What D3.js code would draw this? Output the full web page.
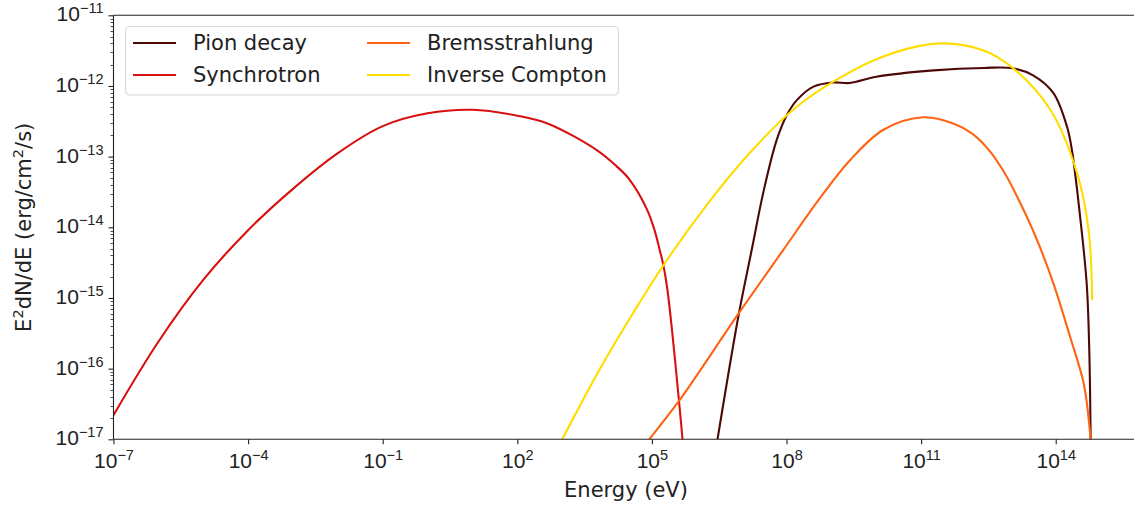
<!DOCTYPE html>
<html>
<head>
<meta charset="utf-8">
<script src="https://cdn.jsdelivr.net/npm/d3@7"></script>
<style>
  html, body { margin: 0; padding: 0; background: #fff; }
  svg { display: block; font-family: "DejaVu Sans", sans-serif; }
</style>
</head>
<body>
<svg id="chart" width="1134" height="507"></svg>
<script>
// Spectral energy distribution components (energy in eV, E^2 dN/dE in erg/cm^2/s)
const pionE = [2.9e6, 8.5e6, 1.7e7, 3.1e7, 6.0e7, 1.0e8, 1.7e8, 4.0e8, 1.1e9, 2.6e9, 1.0e10, 1.9e11, 2.5e12, 1.1e13, 3.2e13, 8.9e13, 1.8e14, 2.3e14, 3.5e14, 4.9e14, 5.6e14, 6.0e14, 6.15e14];
const pionF = [1e-17, 5.6e-16, 5.0e-15, 3.3e-14, 1.7e-13, 3.8e-13, 6.3e-13, 9.8e-13, 1.12e-12, 1.1e-12, 1.35e-12, 1.66e-12, 1.8e-12, 1.78e-12, 1.4e-12, 7.9e-13, 2.6e-13, 1.23e-13, 1.4e-14, 1.6e-15, 1.8e-16, 1.07e-17, 2e-18];

const synchE = [1e-7, 1e-6, 1e-5, 1e-4, 1e-3, 1e-2, 1e-1, 1, 10, 100, 470, 6.0e3, 1.6e4, 3.2e4, 7.8e4, 1.17e5, 1.5e5, 1.8e5, 2.2e5, 2.77e5, 3.9e5, 4.8e5, 5.5e5];
const synchF = [2.2e-17, 2.4e-16, 1.8e-15, 9.1e-15, 3.5e-14, 1.12e-13, 2.7e-13, 4.1e-13, 4.6e-13, 3.8e-13, 2.95e-13, 1.23e-13, 7.4e-14, 4.7e-14, 1.78e-14, 8.7e-15, 4.7e-15, 2.9e-15, 1.35e-15, 3.8e-16, 4.2e-17, 1e-17, 2.5e-18];

const bremE = [8.7e4, 3.9e5, 8.5e6, 8.5e7, 5.1e8, 2.6e9, 1.45e10, 1.1e11, 5.2e11, 1.4e12, 3.5e12, 7.1e12, 1.35e13, 3.5e13, 8.9e13, 2.1e14, 4.2e14, 5.75e14, 6.3e14];
const bremF = [1e-17, 3.4e-17, 6.0e-16, 4.8e-15, 2.4e-14, 8.9e-14, 2.4e-13, 3.6e-13, 2.95e-13, 2.1e-13, 1.17e-13, 6.0e-14, 2.8e-14, 7.6e-15, 1.6e-15, 2.8e-16, 6.2e-17, 1.35e-17, 6e-18];

const icE = [1.0e3, 7.0e3, 3.5e4, 1.8e5, 2.0e6, 1.6e7, 1.4e8, 1.1e9, 1.4e10, 2.6e11, 2.4e12, 1.1e13, 7.6e13, 3.0e14, 5.4e14, 6.5e14];
const icF = [1e-17, 1.0e-16, 5.6e-16, 2.9e-15, 2.4e-14, 1.17e-13, 4.6e-13, 1.15e-12, 2.6e-12, 4.0e-12, 3.2e-12, 1.8e-12, 4.6e-13, 5.8e-14, 9.1e-15, 9.3e-16];

const seriesNames = ["Pion decay", "Synchrotron", "Bremsstrahlung", "Inverse Compton"];
const seriesColors = ["#4d0808", "#d81010", "#ff6414", "#ffdd00"];

const xTickExps = [-7, -4, -1, 2, 5, 8, 11, 14];
const yTickExps = [-17, -16, -15, -14, -13, -12, -11];
const xDomain = [1e-7, 7e15];
const yDomain = [1e-17, 1e-11];

const svg = d3.select("#chart");
const margin = { left: 113.5, top: 15.3, right: 1138.5, bottom: 439.3 };

const x = d3.scaleLog().domain(xDomain).range([margin.left, margin.right]);
const y = d3.scaleLog().domain(yDomain).range([margin.bottom, margin.top]);

const FS = 21;
const SUP = 14.5;
const minus = "\u2212";

// clip region for the curves
svg.append("defs").append("clipPath").attr("id", "plotclip")
  .append("rect")
  .attr("x", margin.left).attr("y", margin.top)
  .attr("width", margin.right - margin.left)
  .attr("height", margin.bottom - margin.top);

const seriesData = [
  [pionE, pionF], [synchE, synchF], [bremE, bremF], [icE, icF]
];

const line = d3.line()
  .x(d => x(d[0]))
  .y(d => y(d[1]))
  .curve(d3.curveCatmullRom.alpha(0.5));

const plot = svg.append("g").attr("clip-path", "url(#plotclip)");
seriesData.forEach(([es, fs], i) => {
  const pts = es.map((e, j) => [e, fs[j]]);
  plot.append("path")
    .datum(pts)
    .attr("d", line)
    .attr("fill", "none")
    .attr("stroke", seriesColors[i])
    .attr("stroke-width", 2.1)
    .attr("stroke-linejoin", "round")
    .attr("stroke-linecap", "butt");
});

// x axis
const xAxis = d3.axisBottom(x)
  .tickValues(xTickExps.map(e => Math.pow(10, e)))
  .tickSize(5)
  .tickFormat(() => "");
const gx = svg.append("g")
  .attr("transform", `translate(0,${margin.bottom})`)
  .call(xAxis);
gx.select(".domain").remove();
gx.selectAll(".tick text").remove();
gx.selectAll(".tick line").attr("stroke", "#222").attr("stroke-width", 1.1);
gx.selectAll(".tick").each(function(d) {
  const t = d3.select(this).append("text")
    .attr("y", 29)
    .attr("fill", "#222")
    .attr("font-size", FS)
    .attr("text-anchor", "middle");
  const ex = Math.round(Math.log10(d));
  t.append("tspan").text("10");
  t.append("tspan").attr("dy", -8).attr("font-size", SUP)
    .text(ex < 0 ? minus + Math.abs(ex) : String(ex));
});

// y axis: major ticks
const yAxis = d3.axisLeft(y)
  .tickValues(yTickExps.map(e => Math.pow(10, e)))
  .tickSize(5)
  .tickFormat(() => "");
const gy = svg.append("g")
  .attr("transform", `translate(${margin.left},0)`)
  .call(yAxis);
gy.select(".domain").remove();
gy.selectAll(".tick text").remove();
gy.selectAll(".tick line").attr("stroke", "#222").attr("stroke-width", 1.1);
gy.selectAll(".tick").each(function(d) {
  const ex = Math.round(Math.log10(d));
  const t = d3.select(this).append("text")
    .attr("x", -10)
    .attr("y", 5.5)
    .attr("fill", "#222")
    .attr("font-size", FS)
    .attr("text-anchor", "end");
  t.append("tspan").text("10");
  t.append("tspan").attr("dy", -8).attr("font-size", SUP)
    .text(minus + Math.abs(ex));
});

// y axis: minor ticks
const minorVals = [];
for (let e = -17; e < -11; e++) {
  for (let m = 2; m <= 9; m++) minorVals.push(m * Math.pow(10, e));
}
svg.append("g").selectAll("line").data(minorVals).join("line")
  .attr("x1", margin.left - 3).attr("x2", margin.left)
  .attr("y1", d => Math.round(y(d)) + 0.5).attr("y2", d => Math.round(y(d)) + 0.5)
  .attr("stroke", "#222").attr("stroke-width", 0.8);

// spines
const spine = svg.append("g").attr("stroke", "#222").attr("stroke-width", 1.1);
spine.append("line").attr("x1", margin.left).attr("x2", margin.left)
  .attr("y1", margin.top).attr("y2", margin.bottom);
spine.append("line").attr("x1", margin.left).attr("x2", margin.right)
  .attr("y1", margin.bottom).attr("y2", margin.bottom);
spine.append("line").attr("x1", margin.left).attr("x2", margin.right)
  .attr("y1", margin.top).attr("y2", margin.top);
spine.append("line").attr("x1", margin.right).attr("x2", margin.right)
  .attr("y1", margin.top).attr("y2", margin.bottom);

// axis labels
svg.append("text")
  .attr("x", (margin.left + margin.right) / 2)
  .attr("y", 497)
  .attr("text-anchor", "middle")
  .attr("font-size", FS)
  .attr("fill", "#222")
  .text("Energy (eV)");

const ylab = svg.append("text")
  .attr("transform", `translate(31,${(margin.top + margin.bottom) / 2}) rotate(-90)`)
  .attr("text-anchor", "middle")
  .attr("font-size", FS)
  .attr("fill", "#222");
ylab.append("tspan").text("E");
ylab.append("tspan").attr("dy", -8).attr("font-size", SUP).text("2");
ylab.append("tspan").attr("dy", 8).text("dN/dE (erg/cm");
ylab.append("tspan").attr("dy", -8).attr("font-size", SUP).text("2");
ylab.append("tspan").attr("dy", 8).text("/s)");

// legend
const legend = svg.append("g");
legend.append("rect")
  .attr("x", 125.5).attr("y", 26.5)
  .attr("width", 493).attr("height", 68.5)
  .attr("rx", 4).attr("ry", 4)
  .attr("fill", "rgba(255,255,255,0.8)")
  .attr("stroke", "#d6d6d6")
  .attr("stroke-width", 1);
const legendPos = [
  { lx: 133, tx: 193, y: 43 },
  { lx: 133, tx: 193, y: 75 },
  { lx: 367, tx: 427, y: 43 },
  { lx: 367, tx: 427, y: 75 }
];
seriesNames.forEach((name, i) => {
  const p = legendPos[i];
  legend.append("line")
    .attr("x1", p.lx).attr("x2", p.lx + 43)
    .attr("y1", p.y).attr("y2", p.y)
    .attr("stroke", seriesColors[i]).attr("stroke-width", 2.1);
  legend.append("text")
    .attr("x", p.tx).attr("y", p.y + 7)
    .attr("font-size", FS)
    .attr("fill", "#222")
    .text(name);
});
</script>
</body>
</html>
